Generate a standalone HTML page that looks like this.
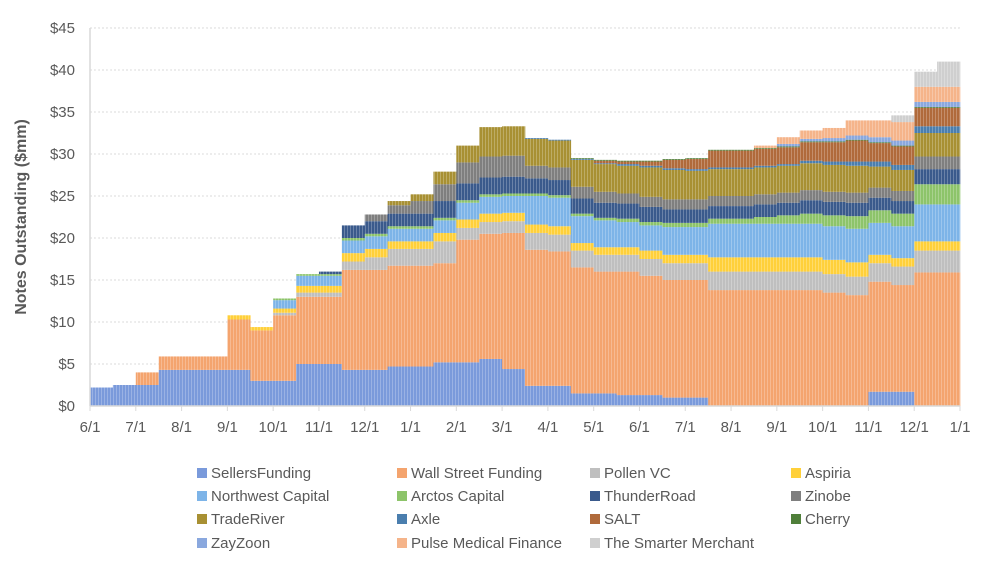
<!DOCTYPE html>
<html><head><meta charset="utf-8"><style>
body{margin:0;background:#fff;font-family:"Liberation Sans",sans-serif}
svg text{font-family:"Liberation Sans",sans-serif}
</style></head><body>
<svg id="chart" width="998" height="560">
<g id="grid"></g><g id="bars"></g><g id="axes"></g><g id="legend"></g>
<text transform="translate(26,217) rotate(-90)" text-anchor="middle" font-size="16" font-weight="bold" fill="#595959">Notes Outstanding ($mm)</text>
</svg>
<script>
const xLabels=["6/1","7/1","8/1","9/1","10/1","11/1","12/1","1/1","2/1","3/1","4/1","5/1","6/1","7/1","8/1","9/1","10/1","11/1","12/1","1/1"];
const yTicks=[0,5,10,15,20,25,30,35,40,45];
const seriesNames=["SellersFunding","Wall Street Funding","Pollen VC","Aspiria","Northwest Capital","Arctos Capital","ThunderRoad","Zinobe","TradeRiver","Axle","SALT","Cherry","ZayZoon","Pulse Medical Finance","The Smarter Merchant"];
const seriesColors=["#7A9ADB","#F4A46E","#BFBFBF","#FFD03A","#7DB4E8","#8DC46A","#3A5A8C","#7F7F7F","#A89033","#4A7EAE","#B06A3B","#4F7F3A","#8AA8DE","#F5B48A","#CFCFCF"];
const sellersFunding=[2.2,2.5,2.5,4.3,4.3,4.3,4.3,3.0,3.0,5.0,5.0,4.3,4.3,4.7,4.7,5.2,5.2,5.6,4.4,2.4,2.4,1.5,1.5,1.3,1.3,1.0,1.0,0,0,0,0,0,0,0,1.7,1.7,0,0];
const wallStreet=[0,0,1.5,1.6,1.6,1.6,6.0,6.0,7.8,8.0,8.0,11.9,11.9,12.0,12.0,11.8,14.6,14.9,16.2,16.2,16.0,15.0,14.5,14.7,14.2,14.0,14.0,13.8,13.8,13.8,13.8,13.8,13.5,13.2,13.1,12.7,15.9,15.9];
const pollenVC=[0,0,0,0,0,0,0,0,0.3,0.5,0.5,1.0,1.5,2.0,2.0,2.6,1.4,1.4,1.4,2.0,2.0,2.0,2.0,2.0,2.0,2.0,2.0,2.2,2.2,2.2,2.2,2.2,2.2,2.2,2.2,2.2,2.6,2.6];
const aspiria=[0,0,0,0,0,0,0.5,0.4,0.5,0.8,0.8,1.0,1.0,0.9,0.9,1.0,1.0,1.0,1.0,1.0,1.0,0.9,0.9,0.9,1.0,1.0,1.0,1.7,1.7,1.7,1.7,1.7,1.7,1.7,1.0,1.0,1.1,1.1];
const northwest=[0,0,0,0,0,0,0,0,1.0,1.2,1.2,1.5,1.5,1.5,1.5,1.5,2.0,2.0,2.0,3.4,3.4,3.2,3.2,3.0,3.0,3.3,3.3,4.0,4.0,4.0,4.0,4.0,4.0,4.0,3.8,3.8,4.4,4.4];
const arctos=[0,0,0,0,0,0,0,0,0.2,0.2,0.2,0.3,0.3,0.3,0.3,0.3,0.3,0.3,0.3,0.3,0.3,0.3,0.3,0.4,0.4,0.5,0.5,0.6,0.6,0.8,1.0,1.2,1.3,1.5,1.5,1.5,2.4,2.4];
const thunderRoad=[0,0,0,0,0,0,0,0,0,0,0.3,1.5,1.5,1.5,1.5,2.0,2.0,2.0,2.0,1.8,1.8,1.8,1.8,1.8,1.8,1.6,1.6,1.5,1.5,1.5,1.5,1.6,1.6,1.6,1.5,1.5,1.8,1.8];
const zinobe=[0,0,0,0,0,0,0,0,0,0,0,0,0.8,1.0,1.5,2.0,2.5,2.5,2.5,1.5,1.5,1.4,1.3,1.2,1.2,1.2,1.2,1.2,1.2,1.2,1.2,1.2,1.2,1.2,1.2,1.2,1.5,1.5];
const tradeRiver=[0,0,0,0,0,0,0,0,0,0,0,0,0,0.5,0.8,1.5,2.0,3.5,3.5,3.2,3.2,3.2,3.3,3.3,3.5,3.5,3.4,3.2,3.2,3.2,3.2,3.2,3.2,3.2,2.5,2.5,2.8,2.8];
const axle=[0,0,0,0,0,0,0,0,0,0,0,0,0,0,0,0,0,0,0,0.1,0.1,0.1,0.1,0.2,0.2,0.2,0.2,0.2,0.2,0.2,0.2,0.3,0.4,0.5,0.6,0.6,0.8,0.8];
const salt=[0,0,0,0,0,0,0,0,0,0,0,0,0,0,0,0,0,0,0,0,0,0,0.3,0.3,0.5,1.0,1.2,2.0,2.0,2.0,2.0,2.2,2.3,2.5,2.2,2.2,2.2,2.2];
const cherry=[0,0,0,0,0,0,0,0,0,0,0,0,0,0,0,0,0,0,0,0,0,0.1,0.1,0.1,0.1,0.1,0.1,0.1,0.1,0.1,0.1,0.1,0.1,0.1,0.1,0.1,0.1,0.1];
const zayZoon=[0,0,0,0,0,0,0,0,0,0,0,0,0,0,0,0,0,0,0,0,0,0,0,0,0,0,0,0,0,0,0.3,0.3,0.4,0.5,0.6,0.6,0.6,0.6];
const pulseMedical=[0,0,0,0,0,0,0,0,0,0,0,0,0,0,0,0,0,0,0,0,0,0,0,0,0,0,0,0,0,0.3,0.8,1.0,1.2,1.8,2.0,2.2,1.8,1.8];
const smarterMerchant=[0,0,0,0,0,0,0,0,0,0,0,0,0,0,0,0,0,0,0,0,0,0,0,0,0,0,0,0,0,0,0,0,0,0,0,0.8,1.8,3.0];
const allSeries=[sellersFunding,wallStreet,pollenVC,aspiria,northwest,arctos,thunderRoad,zinobe,tradeRiver,axle,salt,cherry,zayZoon,pulseMedical,smarterMerchant];

const NS="http://www.w3.org/2000/svg";
const X0=90,X1=960,Y0=406,Y1=28,YMAX=45;
const nP=sellersFunding.length;
const xScale=i=>X0+(X1-X0)*i/nP;
const yScale=v=>Y0-(Y0-Y1)*v/YMAX;
function mk(tag,attrs,parent){const e=document.createElementNS(NS,tag);for(const k in attrs)e.setAttribute(k,attrs[k]);parent.appendChild(e);return e;}
const grid=document.getElementById('grid'),bars=document.getElementById('bars'),axes=document.getElementById('axes'),legend=document.getElementById('legend');
yTicks.forEach(t=>{
  const y=yScale(t);
  if(t>0){const l=mk('line',{x1:X0,x2:X1,y1:y,y2:y,stroke:'#d9d9d9','stroke-dasharray':'2,2'},grid);
  
  }
  const tx=mk('text',{x:75,y:y+5,'text-anchor':'end','font-size':'15',fill:'#595959'},axes);
  tx.textContent='$'+t;
  
  
});
for(let i=0;i<nP;i++){
  let acc=0;
  allSeries.forEach((s,k)=>{
    const v=s[i];if(v<=0)return;
    const r=mk('rect',{x:xScale(i),y:yScale(acc+v),width:xScale(i+1)-xScale(i)+0.3,height:yScale(acc)-yScale(acc+v),fill:seriesColors[k]},bars);
    
    
    acc+=v;
  });
}
// thin stripes to mimic daily bars
const pat=mk('pattern',{id:'stripes',width:3,height:10,patternUnits:'userSpaceOnUse'},mk('defs',{},bars));
mk('rect',{x:2.3,y:0,width:0.7,height:10,fill:'rgba(255,255,255,0.35)'},pat);
mk('rect',{x:X0,y:Y1,width:X1-X0,height:Y0-Y1,fill:'url(#stripes)'},bars);
const ax=mk('line',{x1:X0,x2:X1,y1:Y0,y2:Y0,stroke:'#d9d9d9','stroke-width':1.5},axes);


const ay=mk('line',{x1:X0,x2:X0,y1:Y1,y2:Y0,stroke:'#d9d9d9','stroke-width':1.5},axes);


xLabels.forEach((lab,j)=>{
  const x=X0+(X1-X0)*j/(xLabels.length-1);
  mk('line',{x1:x,x2:x,y1:Y0,y2:Y0+5,stroke:'#d9d9d9'},axes);
  const t=mk('text',{x:x,y:432,'text-anchor':'middle','font-size':'15',fill:'#595959'},axes);
  t.textContent=lab;
  
  
});
const legX=[207,407,600,801],legY=[478,501,524,548];
seriesNames.forEach((n,k)=>{
  const x=legX[k%4],y=legY[Math.floor(k/4)];
  const g=mk('g',{},legend);
  
  
  mk('rect',{x:x-10,y:y-10,width:10,height:10,fill:seriesColors[k]},g);
  const t=mk('text',{x:x+4,y:y,'font-size':'15',fill:'#595959'},g);
  t.textContent=n;
});
</script>
</body></html>
